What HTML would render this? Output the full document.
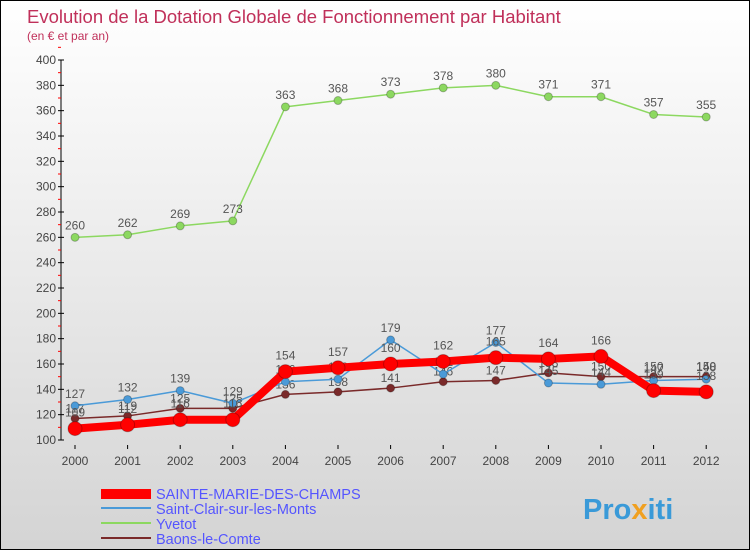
<!DOCTYPE html>
<html><head><meta charset="utf-8"><style>
body{margin:0}
#c{width:750px;height:550px;position:relative;box-sizing:border-box;border:1px solid #000;background:linear-gradient(#fff,#d4d4d4);font-family:"Liberation Sans",sans-serif;overflow:hidden}
</style></head><body>
<div id="c">
<svg id="s" width="748" height="548" xmlns="http://www.w3.org/2000/svg">
<text x="26" y="22" font-size="18.5" fill="#c0305a">Evolution de la Dotation Globale de Fonctionnement par Habitant</text>
<text x="26" y="39" font-size="12" fill="#c0305a">(en € et par an)</text>
<g id="axes"></g><g id="series"></g>
<g id="legend" font-size="14.5">
<rect x="100" y="488" width="50" height="10" fill="#f00"/>
<text x="155" y="498" fill="#55f">SAINTE-MARIE-DES-CHAMPS</text>
<rect x="100" y="506" width="50" height="2" fill="#4a9ad8"/>
<text x="155" y="513" fill="#55f">Saint-Clair-sur-les-Monts</text>
<rect x="100" y="521" width="50" height="2" fill="#8cd860"/>
<text x="155" y="528" fill="#55f">Yvetot</text>
<rect x="100" y="536" width="50" height="2" fill="#7a2a2a"/>
<text x="155" y="543" fill="#55f">Baons-le-Comte</text>
</g>
<text x="582" y="518" font-size="29" font-weight="bold" fill="#3a9ad8">Pro<tspan fill="#f0a020">x</tspan>iti</text>
</svg></div>
<script>
const years=[2000,2001,2002,2003,2004,2005,2006,2007,2008,2009,2010,2011,2012];
const yTicks=[100,120,140,160,180,200,220,240,260,280,300,320,340,360,380,400];
const sainteMarie=[109,112,116,116,154,157,160,162,165,164,166,139,138];
const saintClair=[127,132,139,129,146,148,179,152,177,145,144,147,148];
const yvetot=[260,262,269,273,363,368,373,378,380,371,371,357,355];
const baons=[117,119,125,125,136,138,141,146,147,153,150,150,150];
const NS="http://www.w3.org/2000/svg";
const X=i=>74+i*52.6, Y=v=>439-(v-100)*380/300;
function mk(t,a,p){const e=document.createElementNS(NS,t);for(const k in a)e.setAttribute(k,a[k]);p.appendChild(e);return e;}
const ax=document.getElementById('axes'),sg=document.getElementById('series');
const yl=mk('line',{x1:60,y1:Y(400),x2:60,y2:Y(100),stroke:'#000'},ax);


yTicks.forEach(v=>{
 mk('line',{x1:57,x2:63,y1:Y(v),y2:Y(v),stroke:'#000'},ax);
 mk('line',{x1:57,x2:60,y1:Y(v+10),y2:Y(v+10),stroke:'#f00'},ax);
 const t=mk('text',{x:55,y:Y(v)+4,'font-size':12,'text-anchor':'end',fill:'#444'},ax);t.textContent=v;
 
 
});
years.forEach((y,i)=>{
 mk('line',{x1:X(i),x2:X(i),y1:444,y2:448,stroke:'#000'},ax);
 const t=mk('text',{x:X(i),y:464,'font-size':12,'text-anchor':'middle',fill:'#444'},ax);t.textContent=y;
 
 
});
function series(d,col,w,r,name,dy){
 const g=mk('g',{},sg);
 
 
 mk('polyline',{points:d.map((v,i)=>X(i)+','+Y(v)).join(' '),fill:'none',stroke:col,'stroke-width':w,'stroke-linejoin':'round'},g);
 d.forEach((v,i)=>{
  const c=mk('circle',{cx:X(i),cy:Y(v),r:r,fill:col,stroke:'rgba(0,0,0,0.25)'},g);
  
  
  const t=mk('text',{x:X(i),y:Y(v)+dy,'font-size':12,'text-anchor':'middle',fill:'#555'},g);t.textContent=v;
  
  
 });
}
series(baons,'#7a2a2a',1.5,4,'baons-series',-6);
series(yvetot,'#8cd860',1.5,4,'yvetot-series',-8);
series(saintClair,'#4a9ad8',1.5,4,'saint-clair-series',-8);
series(sainteMarie,'#f00',8,7,'sainte-marie-series',-12);
</script></body></html>
